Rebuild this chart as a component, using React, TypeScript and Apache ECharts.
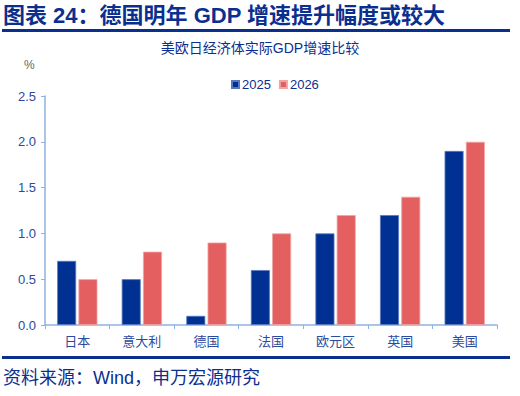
import React, { useEffect, useRef } from "react";
import * as echarts from "echarts";

const categories = ["日本", "意大利", "德国", "法国", "欧元区", "英国", "美国"];
const values2025 = [0.7, 0.5, 0.1, 0.6, 1.0, 1.2, 1.9];
const values2026 = [0.5, 0.8, 0.9, 1.0, 1.2, 1.4, 2.0];
const seriesNames = ["2025", "2026"];

const FONT = '"Liberation Sans", "Noto Sans CJK SC", sans-serif';
const DARK = "#0b2f8f";
const LABEL = "#2c4a9e";

export default function App() {
  const ref = useRef<HTMLDivElement>(null);
  useEffect(() => {
    if (!ref.current) return;
    const chart = echarts.init(ref.current, null, { renderer: "svg" });
    chart.setOption({
      animation: false,
      backgroundColor: "#ffffff",
      textStyle: { fontFamily: FONT },
      grid: { left: 45, right: 23, top: 96, bottom: 71, containLabel: false },
      legend: {
        data: seriesNames,
        top: 73,
        left: 226,
        itemWidth: 7,
        itemHeight: 7,
        itemGap: 8,
        icon: "rect",
        textStyle: { color: DARK, fontSize: 13, fontFamily: FONT, padding: [0, 0, 0, -2] },
      },
      xAxis: {
        type: "category",
        data: categories,
        axisLine: { lineStyle: { color: "#8db3e2", width: 1.5 } },
        axisTick: { show: true, length: 4, lineStyle: { color: "#8db3e2" } },
        axisLabel: { color: LABEL, fontSize: 13, margin: 10, fontFamily: FONT },
      },
      yAxis: {
        type: "value",
        min: 0,
        max: 2.5,
        interval: 0.5,
        splitLine: { show: false },
        axisLine: { show: true, lineStyle: { color: "#8db3e2", width: 1.5 } },
        axisTick: { show: true, length: 4, lineStyle: { color: "#8db3e2" } },
        axisLabel: {
          color: LABEL,
          fontSize: 13,
          margin: 9,
          fontFamily: FONT,
          formatter: (v: number) => v.toFixed(1),
        },
      },
      series: [
        {
          name: seriesNames[0],
          type: "bar",
          data: values2025,
          barWidth: 19,
          barGap: "12%",
          itemStyle: { color: "#003192", borderColor: "#5a78c0", borderWidth: 0.8 },
        },
        {
          name: seriesNames[1],
          type: "bar",
          data: values2026,
          barWidth: 19,
          itemStyle: { color: "#e45f60", borderColor: "#f2a3a3", borderWidth: 0.8 },
        },
      ],
      graphic: [
        {
          type: "text",
          left: 3,
          top: 4,
          style: {
            text: "图表 24：德国明年 GDP 增速提升幅度或较大",
            fill: DARK,
            font: `bold 22px ${FONT}`,
          },
        },
        {
          type: "rect",
          shape: { x: 2, y: 29, width: 508, height: 3 },
          style: { fill: "#0a2f8f" },
        },
        {
          type: "text",
          left: "center",
          top: 41,
          style: {
            text: "美欧日经济体实际GDP增速比较",
            fill: DARK,
            font: `14px ${FONT}`,
          },
        },
        {
          type: "text",
          left: 24,
          top: 59,
          style: { text: "%", fill: "#666666", font: `12px ${FONT}` },
        },
        {
          type: "rect",
          shape: { x: 2, y: 356, width: 508, height: 3 },
          style: { fill: "#0a2f8f" },
        },
        {
          type: "text",
          left: 3,
          top: 369,
          style: {
            text: "资料来源：Wind，申万宏源研究",
            fill: DARK,
            font: `18px ${FONT}`,
          },
        },
      ],
    });
    return () => chart.dispose();
  }, []);
  return <div ref={ref} style={{ width: 520, height: 396, position: "absolute", left: 0, top: 0 }} />;
}
